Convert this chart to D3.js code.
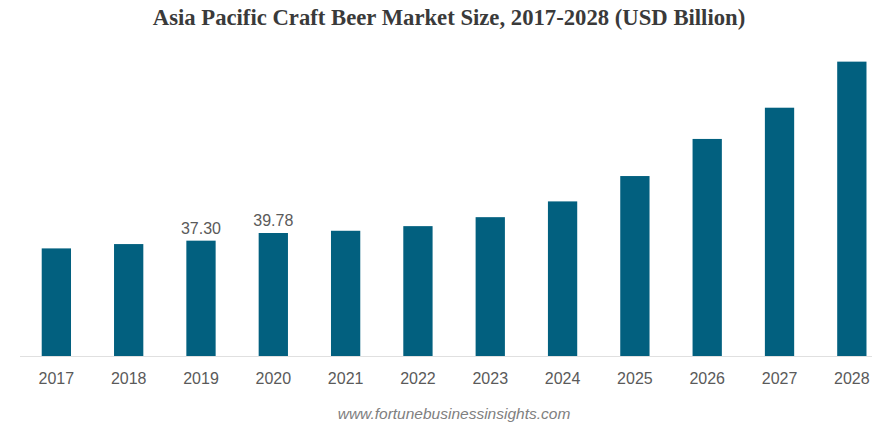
<!DOCTYPE html>
<html>
<head>
<meta charset="utf-8">
<script src="https://cdn.jsdelivr.net/npm/d3@7"></script>
<style>
  html, body { margin: 0; padding: 0; background: #fff; }
  svg { display: block; }
</style>
</head>
<body>
<div id="chart"></div>
<script>
const title = "Asia Pacific Craft Beer Market Size, 2017-2028 (USD Billion)";
const years = ["2017","2018","2019","2020","2021","2022","2023","2024","2025","2026","2027","2028"];
const values = [34.8, 36.2, 37.30, 39.78, 40.5, 42.0, 44.9, 50.0, 58.2, 70.2, 80.3, 95.2];
const labelled = ["2019", "2020"];
const labelText = ["37.30", "39.78"];
const source = "www.fortunebusinessinsights.com";

const W = 878, H = 425;
const svg = d3.select("#chart").append("svg").attr("width", W).attr("height", H);

const x = d3.scaleBand().domain(years).range([20.2, 888]).paddingInner(0.595).paddingOuter(0.2975);
const y = d3.scaleLinear().domain([0, 100]).range([356, 46.8]);

svg.append("text")
  .attr("x", 449).attr("y", 25)
  .attr("text-anchor", "middle")
  .attr("font-family", "'Liberation Serif', 'Times New Roman', serif")
  .attr("font-weight", "bold")
  .attr("font-size", 22.7)
  .attr("fill", "#3a3a3a")
  .text(title);

svg.selectAll("rect.bar").data(values).join("rect")
  .attr("class", "bar")
  .attr("x", (d, i) => x(years[i]))
  .attr("width", x.bandwidth())
  .attr("y", d => y(d))
  .attr("height", d => y(0) - y(d))
  .attr("fill", "#02607f");

const xAxis = svg.append("g").attr("transform", `translate(0,${y(0)})`)
  .call(d3.axisBottom(x).tickSize(0).tickPadding(17));
xAxis.select(".domain").remove();
xAxis.append("line").attr("x1", 20).attr("x2", 872).attr("y1", 0.5).attr("y2", 0.5).attr("stroke", "#e0e0e0");
xAxis.selectAll(".tick text")
  .attr("font-family", "'Liberation Sans', Arial, sans-serif")
  .attr("font-size", 16)
  .attr("fill", "#5a5a5a");

svg.selectAll("text.vlabel").data(labelled).join("text")
  .attr("class", "vlabel")
  .attr("x", d => x(d) + x.bandwidth() / 2)
  .attr("y", d => y(values[years.indexOf(d)]) - 7)
  .attr("text-anchor", "middle")
  .attr("font-family", "'Liberation Sans', Arial, sans-serif")
  .attr("font-size", 16)
  .attr("fill", "#5a5a5a")
  .text((d, i) => labelText[i]);

svg.append("text")
  .attr("x", 454).attr("y", 419)
  .attr("text-anchor", "middle")
  .attr("font-family", "'Liberation Sans', Arial, sans-serif")
  .attr("font-style", "italic")
  .attr("font-size", 15.5)
  .attr("fill", "#808080")
  .text(source);
</script>
</body>
</html>
